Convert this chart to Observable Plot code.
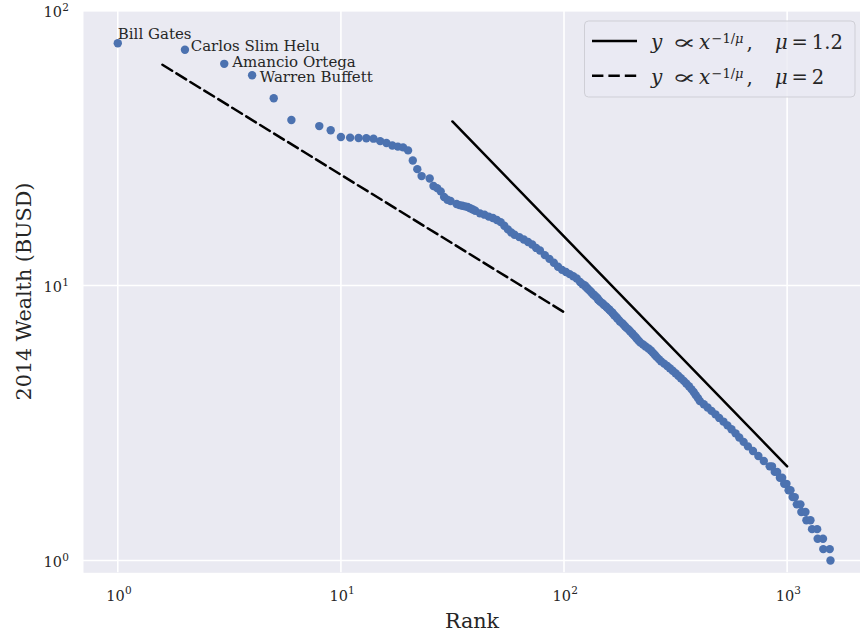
<!DOCTYPE html>
<html>
<head>
<meta charset="utf-8">
<script src="https://cdn.jsdelivr.net/npm/d3@7"></script>
<script src="https://cdn.jsdelivr.net/npm/@observablehq/plot@0.6"></script>
<style>
  body { margin: 0; background: #ffffff; }
  #chart { position: relative; width: 860px; height: 639px; }
  #chart svg { background: none; }
</style>
</head>
<body>
<div id="chart"></div>
<script>
// Forbes 2014 billionaires: rank in the list and net worth (billions of USD)
const rank = [
  1, 2, 3, 4, 5, 6, 8, 9, 10, 11, 12, 13, 14, 15, 16, 17, 18, 19, 20, 21, 22, 23, 25, 26, 27, 28, 29, 30,
  31, 33, 34, 35, 36, 37, 38, 39, 40, 42, 44, 46, 48, 50, 52, 54, 56, 58, 60, 63, 66, 69, 72, 75, 78, 82,
  86, 90, 94, 98, 102, 106, 110, 114, 118, 121,
  124, 125, 127, 128, 130, 132, 133, 135, 137, 139,
  141, 142, 144, 146, 149, 151, 154, 156, 159, 161,
  164, 166, 168, 171, 173, 176, 178, 182, 185, 188,
  191, 195, 198, 202, 205, 209, 212, 216, 220, 226,
  232, 239, 245, 250, 255, 260, 266, 272, 281, 290,
  298, 307, 316, 325, 334, 344, 353, 363, 372, 381,
  389, 398, 406, 423, 440, 458, 477, 496, 518, 540,
  563, 587, 610, 638, 667, 703, 743, 786,
  835, 855, 880, 902, 928, 950, 970, 993, 1015, 1035, 1058, 1082, 1105, 1147,
  1158, 1208, 1220, 1272, 1293, 1363, 1370, 1448, 1452, 1552, 1564
];
const wealth = [
  76.0, 72.0, 64.0, 58.2, 48.0, 40.0, 38.0, 36.7, 34.7, 34.5, 34.4, 34.3, 34.2, 33.5, 33.0, 32.3, 32.0, 31.8, 31.0, 28.5, 26.5, 25.0, 24.5, 23.0, 22.6, 22.0, 21.0, 20.5,
  20.3, 19.8, 19.6, 19.5, 19.4, 19.3, 19.1, 18.9, 18.7, 18.3, 18.1, 17.8, 17.6, 17.3, 17.0, 16.5, 16.0, 15.6, 15.3, 15.0, 14.7, 14.4, 14.1, 13.7, 13.4, 12.9,
  12.5, 12.1, 11.7, 11.4, 11.2, 11.0, 10.8, 10.6, 10.3, 10.1,
  10.0, 9.9, 9.8, 9.7, 9.6, 9.5, 9.4, 9.3, 9.2, 9.1,
  9.0, 8.9, 8.8, 8.7, 8.6, 8.5, 8.4, 8.3, 8.2, 8.1,
  8.0, 7.9, 7.8, 7.7, 7.6, 7.5, 7.4, 7.3, 7.2, 7.1,
  7.0, 6.9, 6.8, 6.7, 6.6, 6.5, 6.4, 6.3, 6.2, 6.1,
  6.0, 5.9, 5.8, 5.7, 5.6, 5.5, 5.4, 5.3, 5.2, 5.1,
  5.0, 4.9, 4.8, 4.7, 4.6, 4.5, 4.4, 4.3, 4.2, 4.1,
  4.0, 3.9, 3.8, 3.7, 3.6, 3.5, 3.4, 3.3, 3.2, 3.1,
  3.0, 2.9, 2.8, 2.7, 2.6, 2.5, 2.4, 2.3,
  2.2, 2.2, 2.1, 2.1, 2.0, 2.0, 1.9, 1.9, 1.8, 1.8, 1.7, 1.7, 1.6, 1.6,
  1.5, 1.5, 1.4, 1.4, 1.3, 1.3, 1.2, 1.2, 1.1, 1.1, 1.0
];

// The four richest, labelled on the chart
const names = ["Bill Gates", "Carlos Slim Helu", "Amancio Ortega", "Warren Buffett"];

// Reference power laws y ∝ x^(-1/μ), as segment end points
const steepRank = [31.6, 1000];
const steepWealth = [39.5, 2.2];
const shallowRank = [1.585, 100];
const shallowWealth = [63.5, 8.0];

// Decade ticks
const xTicks = [1, 10, 100, 1000];
const yTicks = [1, 10, 100];

const font = "DejaVu Serif";
const ink = "#262626";
const dotColor = "#4C72B0";
const panel = "#EAEAF2";

const points = rank.map((r, i) => ({rank: r, wealth: wealth[i]}));
const steep = steepRank.map((r, i) => ({rank: r, wealth: steepWealth[i]}));
const shallow = shallowRank.map((r, i) => ({rank: r, wealth: shallowWealth[i]}));
const exponent = d => String(Math.round(Math.log10(d)));

// label placement relative to each dot: [dx, dy to baseline]
const labelOffsets = [[0, -4.4], [5.7, 1.5], [8, 2.8], [7.7, 7]];

const chart = Plot.plot({
  width: 860,
  height: 639,
  marginLeft: 83,
  marginRight: 0,
  marginTop: 11,
  marginBottom: 66.7,
  style: {fontFamily: font, fontSize: "14.5px", color: ink, background: "none", overflow: "visible"},
  x: {type: "log", domain: [0.702, 2132], axis: null},
  y: {type: "log", domain: [0.902, 99.2], axis: null},
  marks: [
    Plot.frame({fill: panel, stroke: null}),
    Plot.ruleX(xTicks, {stroke: "white", strokeWidth: 1.6}),
    Plot.ruleY(yTicks, {stroke: "white", strokeWidth: 1.6}),
    // decade tick labels: base "10" with a raised exponent
    Plot.text(xTicks, {x: d => d, frameAnchor: "bottom", text: () => "10", textAnchor: "end",
      lineAnchor: "bottom", dx: 7, dy: 27.7, fontSize: 14.5, fill: ink}),
    Plot.text(xTicks, {x: d => d, frameAnchor: "bottom", text: exponent, textAnchor: "start",
      lineAnchor: "bottom", dx: 7.2, dy: 21.5, fontSize: 10.5, fill: ink}),
    Plot.text(yTicks, {y: d => d, frameAnchor: "left", text: () => "10", textAnchor: "end",
      lineAnchor: "bottom", dx: -21.5, dy: 6.8, fontSize: 14.5, fill: ink}),
    Plot.text(yTicks, {y: d => d, frameAnchor: "left", text: exponent, textAnchor: "start",
      lineAnchor: "bottom", dx: -21.3, dy: 0.8, fontSize: 10.5, fill: ink}),
    Plot.dot(points, {x: "rank", y: "wealth", r: 4.2, fill: dotColor}),
    Plot.line(steep, {x: "rank", y: "wealth", stroke: "black", strokeWidth: 2.5}),
    Plot.line(shallow, {x: "rank", y: "wealth", stroke: "black", strokeWidth: 2.5, strokeDasharray: "11.4,5"}),
    ...names.map((name, i) => Plot.text([i], {
      x: j => rank[j], y: j => wealth[j], text: j => names[j],
      textAnchor: "start", lineAnchor: "bottom",
      dx: labelOffsets[i][0], dy: labelOffsets[i][1],
      fontSize: 15, fill: ink
    }))
  ]
});

const svg = d3.select(chart);

// Axis titles
svg.append("text")
  .attr("x", 472).attr("y", 628)
  .attr("text-anchor", "middle")
  .attr("font-family", font).attr("font-size", 20.7).attr("fill", ink)
  .text("Rank");
svg.append("text")
  .attr("transform", "translate(31,291.5) rotate(-90)")
  .attr("text-anchor", "middle")
  .attr("font-family", font).attr("font-size", 20.7).attr("fill", ink)
  .text("2014 Wealth (BUSD)");

// Legend box with the two reference laws
const legend = svg.append("g")
  .attr("font-family", font).attr("fill", ink).attr("text-anchor", "start");
legend.append("rect")
  .attr("x", 584.5).attr("y", 21).attr("width", 270.5).attr("height", 76).attr("rx", 4)
  .attr("fill", panel).attr("fill-opacity", 0.8).attr("stroke", "#cfcfd6").attr("stroke-width", 1);

const rows = [
  {y: 41, base: 49.3, dash: null, mu: "1.2"},
  {y: 75.7, base: 84, dash: "11.4,5", mu: "2"}
];
rows.forEach(row => {
  legend.append("line")
    .attr("x1", 592).attr("x2", 637).attr("y1", row.y).attr("y2", row.y)
    .attr("stroke", "black").attr("stroke-width", 2.5)
    .attr("stroke-dasharray", row.dash);
  const part = (x, str, opts = {}) => {
    const t = legend.append("text").attr("x", x).attr("y", opts.base ?? row.base)
      .attr("font-size", opts.size ?? 20).text(str);
    if (opts.italic) t.attr("font-style", "italic");
    if (opts.width) t.attr("textLength", opts.width).attr("lengthAdjust", "spacingAndGlyphs");
    return t;
  };
  part(651, "y", {italic: true});
  part(671.5, "\u221D", {width: 25});
  part(699, "x", {italic: true});
  // exponent −1/μ
  const sup = legend.append("text").attr("x", 711.5).attr("y", row.base - 6.5).attr("font-size", 13);
  sup.append("tspan").text("\u22121/");
  sup.append("tspan").attr("font-style", "italic").text("\u03BC");
  part(746.5, ",");
  // "μ = value" set as one run with thin spaces
  const eq = legend.append("text").attr("x", 775).attr("y", row.base).attr("font-size", 19.5);
  eq.append("tspan").attr("font-style", "italic").text("\u03BC");
  eq.append("tspan").text("\u2009=\u2009" + row.mu);
});

document.getElementById("chart").appendChild(chart);
</script>
</body>
</html>
